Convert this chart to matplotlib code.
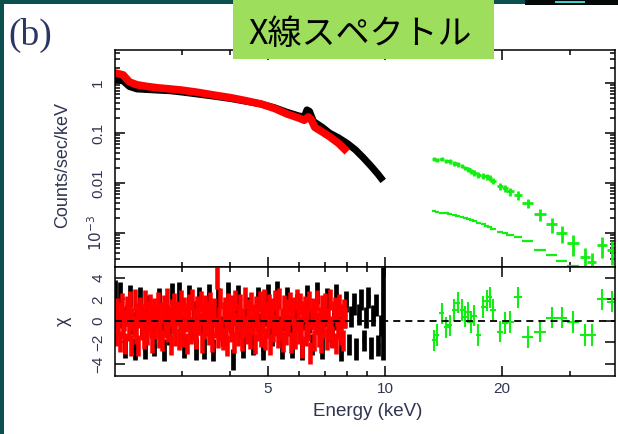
import numpy as np
import matplotlib
matplotlib.use("Agg")
import matplotlib.pyplot as plt
from matplotlib.patches import Rectangle
from matplotlib.ticker import FixedLocator, FixedFormatter, NullFormatter, LogLocator

# ---------------- data ----------------
# XIS (BI, red) spectrum, counts/sec/keV
red_energy = [2.00, 2.05, 2.12, 2.20, 2.30, 2.45, 2.60, 2.80, 3.00, 3.30, 3.60, 4.00,
              4.40, 4.80, 5.20, 5.60, 6.00, 6.20, 6.35, 6.45, 6.60, 6.90, 7.20, 7.60,
              8.00]
red_flux = [1.60, 1.55, 1.45, 1.05, 0.92, 0.85, 0.80, 0.76, 0.72, 0.65, 0.58, 0.51,
            0.44, 0.38, 0.31, 0.24, 0.20, 0.18, 0.21, 0.19, 0.13, 0.105, 0.085, 0.062,
            0.042]

# XIS (FI, black) spectrum
black_energy = [2.00, 2.05, 2.12, 2.20, 2.30, 2.45, 2.60, 2.80, 3.00, 3.30, 3.60, 4.00,
                4.40, 4.80, 5.20, 5.60, 6.00, 6.20, 6.30, 6.40, 6.55, 6.90, 7.20, 7.60,
                8.00, 8.40, 8.80, 9.20, 9.60, 9.90]
black_flux = [1.15, 1.15, 1.10, 0.85, 0.76, 0.74, 0.72, 0.70, 0.66, 0.60, 0.55, 0.49,
              0.43, 0.38, 0.32, 0.26, 0.22, 0.21, 0.29, 0.27, 0.17, 0.13, 0.10, 0.08,
              0.062, 0.046, 0.032, 0.022, 0.015, 0.011]

# HXD-PIN (green)
pin_energy = [13.4, 13.6, 14.0, 14.4, 14.7, 15.1, 15.4, 15.8, 16.1, 16.4, 16.7, 17.0,
              17.4, 17.9, 18.3, 18.6, 19.0, 19.8, 20.4, 21.0, 22.0, 23.3, 25.1, 26.9,
              28.5, 30.5, 32.7, 34.1, 36.2, 38.4]
pin_halfwidth = [0.15, 0.18, 0.22, 0.22, 0.22, 0.22, 0.22, 0.22, 0.22, 0.22, 0.22, 0.26,
                 0.26, 0.26, 0.26, 0.26, 0.35, 0.35, 0.35, 0.45, 0.55, 0.70, 0.85, 0.85,
                 0.90, 1.00, 1.00, 0.90, 1.10, 1.10]
pin_flux = [0.030, 0.029, 0.030, 0.028, 0.027, 0.025, 0.024, 0.022, 0.020, 0.019, 0.017,
            0.016, 0.0145, 0.0140, 0.0135, 0.0126, 0.0110, 0.0088, 0.0079, 0.0068,
            0.0058, 0.0040, 0.0024, 0.0015, 0.0010, 6.2e-4, 3.3e-4, 2.6e-4, 5.8e-4, 4.6e-4]
pin_relerr = [0.10, 0.10, 0.10, 0.10, 0.10, 0.11, 0.11, 0.11, 0.11, 0.12, 0.12, 0.12,
              0.13, 0.13, 0.14, 0.14, 0.15, 0.16, 0.17, 0.18, 0.20, 0.22, 0.26, 0.32,
              0.38, 0.44, 0.52, 0.56, 0.45, 0.50]
pin_model = [0.0027, 0.0026, 0.0025, 0.0025, 0.0024, 0.0023, 0.0022, 0.0021, 0.0020,
             0.0019, 0.0018, 0.0017, 0.0016, 0.0015, 0.0014, 0.0013, 0.00118, 0.00105,
             0.00098, 0.00092, 0.00082, 0.00068, 0.00045, 0.00036, 0.00028, 0.00022,
             0.00017, 0.00014, 0.00011, 0.00009]
pin_resid = [-1.8, -1.3, 0.7, -0.6, -0.4, 1.0, 1.7, 1.0, 0.4, 0.8, -0.1, 0.5,
             -1.3, 1.3, 1.9, 2.2, 1.0, -1.0, -0.2, -0.1, 2.2, -1.5, -1.0, 0.3,
             0.3, -0.1, -1.3, -1.3, 2.0, 1.8]

# residuals (chi) for XIS spectra, bins evenly spread in log energy over the band
red_band = (2.02, 7.9)
red_resid = [
    0.4, -1.3, 1.1, -0.2, -1.9, 0.8, 1.6, -0.6, 0.1, -2.1,
    1.3, 0.5, -0.9, 1.8, -2.3, 0.2, -0.5, 2.0, -1.1, 0.7,
    -2.3, 0.3, 1.2, -0.8, 0.6, -1.6, 1.9, -0.1, -1.2, 0.9,
    1.5, -0.4, -2.0, 0.6, 1.1, -0.7, 0.2, 1.7, -1.5, -0.3,
    0.8, -1.8, 1.4, 0.1, -0.6, 2.1, -1.0, 0.4, -2.2, 1.0,
    -0.2, 1.6, -1.3, 0.5, 0.9, -1.7, 0.3, 1.9, -0.8, -1.4,
    1.2, 0.0, -2.1, 0.7, 1.5, -0.5, -1.1, 2.0, 0.2, -0.9,
    -1.6, 1.3, 0.4, -0.3, 1.8, -2.0, 0.6, -0.7, 1.4, -0.4,
    0.9, -1.2, 1.7, -0.1, -1.9, 0.5, 1.1, -0.6, 4.0, -1.5,
    0.3, 2.1, -0.9, -1.7, 0.8, 1.2, -0.4, -2.3, 1.6, 0.1,
    -1.0, 1.4, 0.6, -2.0, 1.9, -0.2, -1.3, 0.7, 1.5, -0.8,
    -1.8, 0.2, 2.2, -0.5, -1.1, 1.0, 0.4, -1.6, 1.7, -0.3,
    0.6, -2.1, 1.3, 0.0, -0.9, 1.8, -1.4, 0.5, -0.2, 2.0,
    -1.7, 0.9, -0.6, 1.5, -2.2, 0.3, 1.1, -1.0, 1.9, -0.4,
    0.7, -1.5, 2.1, -0.8, 0.2, -1.9, 1.4, 0.5, -1.2, 1.0,
    -0.3, 1.7, -2.0, 0.6, 1.2, -0.7, -1.6, 2.0, 0.1, -1.1,
    1.6, -0.5, -2.4, 0.9, 1.3, -1.3, 0.4, -0.9, 1.8, -3.0,
    0.2, 1.1, -1.8, 0.8, -0.2, 1.9, -1.4, 0.3, -2.0, 1.4,
    -0.6, 0.7, 1.6, -1.7, 0.1, -1.0, 2.0, -0.5, -1.5, 0.9,
    1.2, -2.1, 0.4, -0.7, 1.5, -1.2, 0.6, -1.8, 1.0, 0.3]
black_band = (2.02, 9.9)
black_resid = [
    2.8, -0.4, 2.6, 0.3, -2.4, 0.5, 2.3, -0.2, -2.6, 0.6,
    2.2, -0.5, -2.5, 0.2, 1.4, -0.6, -2.3, 0.4, 2.1, -0.3,
    -2.7, 0.5, -1.2, 2.5, -0.1, 0.7, 2.6, -0.4, -2.4, 0.3,
    2.3, -0.6, 0.9, -2.6, 2.2, -0.3, -2.5, 0.6, 2.4, -0.2,
    -2.7, 0.4, 2.1, -0.5, -1.3, 0.3, 2.6, -0.1, -3.6, 0.5,
    2.3, -0.4, -2.4, 0.2, 1.2, -0.6, -2.2, 0.4, 2.2, -0.3,
    -2.6, 0.5, 2.4, -0.2, -1.3, 0.6, 2.7, -0.5, -2.5, 0.1,
    2.2, -0.4, -2.4, 0.3, 1.5, -0.6, -2.6, 0.2, 2.3, -0.1,
    -2.2, 0.5, 2.6, -0.3, -2.5, 0.4, 2.1, -0.6, -1.4, 0.2,
    2.4, -0.5, -2.7, 0.3, 1.8, -2.2, 0.4, 1.6, -2.6, 0.6,
    2.0, -1.8, 0.3, 2.2, -2.5, 0.5, 1.5, -2.3, -0.4, 0.7]
black_resid_err = [1.0] * (len(black_resid) - 1) + [4.3]

x_major = [5, 10, 20]
x_major_labels = ["5", "10", "20"]
x_minor = [3, 4, 6, 7, 8, 9, 30]
y1_major = [1e-3, 1e-2, 0.1, 1]
y1_labels = [r"$10^{-3}$", "0.01", "0.1", "1"]
y2_major = [-4, -2, 0, 2, 4]
y2_labels = ["\u22124", "\u22122", "0", "2", "4"]

# ---------------- figure ----------------
W, H = 618, 434
fig = plt.figure(figsize=(W / 100, H / 100), dpi=100, facecolor="white")
TXT = "#2f3550"
SANS = ["Liberation Sans", "DejaVu Sans"]
GREEN = "#11ee11"

ax1 = fig.add_axes([115 / W, 1 - 267 / H, 500 / W, 217 / H])
ax2 = fig.add_axes([115 / W, 1 - 376 / H, 500 / W, 109 / H], sharex=ax1)

def log_bins(band, n):
    c = np.geomspace(band[0], band[1], n)
    r = (band[1] / band[0]) ** (1.0 / (n - 1))
    lo = c - c / np.sqrt(r)
    hi = c * np.sqrt(r) - c
    return c, np.vstack([lo, hi])

# upper panel
ax1.plot(black_energy, black_flux, color="black", lw=5, solid_capstyle="butt", zorder=2)
ax1.plot(red_energy, red_flux, color="red", lw=5.5, solid_capstyle="butt", zorder=3)
pf = np.array(pin_flux)
ax1.errorbar(pin_energy, pin_flux, xerr=pin_halfwidth, yerr=pf * np.array(pin_relerr),
             fmt="none", ecolor=GREEN, elinewidth=2.0, zorder=3)
ax1.errorbar(pin_energy, pin_model, xerr=pin_halfwidth, fmt="none",
             ecolor=GREEN, elinewidth=1.6, zorder=3)
ax1.set_xscale("log")
ax1.set_yscale("log")
ax1.set_xlim(2.02, 39.1)
ax1.set_ylim(2.09e-4, 4.57)

# lower panel
bc, bhw = log_bins(black_band, len(black_resid))
ax2.errorbar(bc, black_resid, xerr=bhw, yerr=black_resid_err, fmt="none",
             ecolor="black", elinewidth=3.4, zorder=2)
rc, rhw = log_bins(red_band, len(red_resid))
ax2.errorbar(rc, red_resid, xerr=rhw, yerr=1.0, fmt="none",
             ecolor="red", elinewidth=3.3, zorder=3)
ax2.errorbar(pin_energy, pin_resid, xerr=pin_halfwidth, yerr=1.0, fmt="none",
             ecolor=GREEN, elinewidth=1.5, zorder=3)
ax2.axhline(0, color="black", lw=1.3, ls=(0, (3.9, 2.8)), zorder=5)
ax2.set_ylim(-5.12, 5.02)

for ax in (ax1, ax2):
    for s in ax.spines.values():
        s.set_linewidth(1.1)
        s.set_zorder(6)
    ax.tick_params(which="both", direction="in", top=True, right=True,
                   width=1.1, colors="black", labelcolor=TXT)
    ax.tick_params(which="major", length=7)
    ax.tick_params(which="minor", length=3.5)
    ax.xaxis.set_major_locator(FixedLocator(x_major))
    ax.xaxis.set_minor_locator(FixedLocator(x_minor))
    ax.xaxis.set_minor_formatter(NullFormatter())

ax1.xaxis.set_major_formatter(NullFormatter())
ax1.tick_params(axis="x", labelbottom=False)
ax2.xaxis.set_major_formatter(FixedFormatter(x_major_labels))

ax1.yaxis.set_major_locator(FixedLocator(y1_major))
ax1.yaxis.set_major_formatter(FixedFormatter(y1_labels))
ax1.yaxis.set_minor_locator(LogLocator(base=10, subs=np.arange(2, 10), numticks=20))
ax1.yaxis.set_minor_formatter(NullFormatter())
ax2.yaxis.set_major_locator(FixedLocator(y2_major))
ax2.yaxis.set_major_formatter(FixedFormatter(y2_labels))
ax2.yaxis.set_minor_locator(FixedLocator([]))

for ax in (ax1, ax2):
    ax.tick_params(axis="y", labelrotation=90, pad=7, labelsize=11)
    for lab in ax.get_yticklabels():
        lab.set_va("center")
        lab.set_family(SANS)
ax2.tick_params(axis="x", pad=4, labelsize=11)
for lab in ax2.get_xticklabels():
    lab.set_family(SANS)

ax1.set_ylabel("Counts/sec/keV", family=SANS, fontsize=13, color=TXT, va="center")
ax1.yaxis.set_label_coords(-0.104, 0.47)
ax2.set_ylabel("\u03c7", family=SANS, fontsize=13, color=TXT, va="center")
ax2.yaxis.set_label_coords(-0.104, 0.5)
ax2.set_xlabel("Energy (keV)", family=SANS, fontsize=13.5, color=TXT, va="center")
ax2.xaxis.set_label_coords(0.506, -0.33)

# ---------------- slide decorations ----------------
TEAL = "#0b504e"
fig.add_artist(Rectangle((0, 0), 4 / W, 1, transform=fig.transFigure,
                         facecolor=TEAL, edgecolor="none", zorder=8))
fig.add_artist(Rectangle((0, 1 - 4 / H), 1, 4 / H, transform=fig.transFigure,
                         facecolor=TEAL, edgecolor="none", zorder=8))
fig.add_artist(Rectangle((525 / W, 1 - 5 / H), 93 / W, 5 / H, transform=fig.transFigure,
                         facecolor="#050808", edgecolor="none", zorder=9))
fig.add_artist(Rectangle((555 / W, 1 - 3 / H), 30 / W, 2 / H, transform=fig.transFigure,
                         facecolor="#3fd0d0", edgecolor="none", zorder=9))
fig.add_artist(Rectangle((233 / W, 1 - 59 / H), 261 / W, 59 / H, transform=fig.transFigure,
                         facecolor="#9ddf5c", edgecolor="none", zorder=10))
fig.text(416 / W, 1 + 3 / H, "の解析", fontsize=24, family=["Noto Sans CJK JP"],
         ha="center", va="baseline", color="black", zorder=11)
fig.text(360 / W, 1 - 34 / H, "X線スペクトル", fontsize=24.5,
         family=["Noto Sans CJK JP", "DejaVu Sans"], ha="center", va="center",
         color="black", zorder=11)
fig.text(30 / W, 1 - 35 / H, "(b)", fontsize=27, family=["Liberation Serif"],
         ha="center", va="center", color="#2b3566", zorder=11)

fig.savefig("out.png", dpi=100, facecolor=fig.get_facecolor())
